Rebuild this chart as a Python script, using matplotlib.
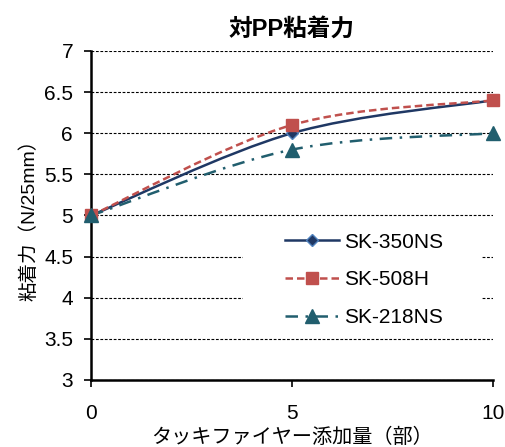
import numpy as np
import matplotlib
matplotlib.use("Agg")
import matplotlib.pyplot as plt
from matplotlib.path import Path
from matplotlib.patches import PathPatch, Rectangle
from matplotlib.lines import Line2D

plt.rcParams['font.family'] = ['Liberation Sans', 'Noto Sans CJK JP']

# data
x_parts = [0, 5, 10]
series_names = ['SK-350NS', 'SK-508H', 'SK-218NS']
sk350ns = [5.0, 6.0, 6.4]
sk508h = [5.0, 6.1, 6.4]
sk218ns = [5.0, 5.8, 6.0]
y_ticks = [3, 3.5, 4, 4.5, 5, 5.5, 6, 6.5, 7]
x_ticks = [0, 5, 10]


def smooth_path(xs, ys):
    """Excel-like smoothed line as cubic Bezier segments"""
    pts = np.column_stack([xs, ys]).astype(float)
    n = len(pts)
    verts = [pts[0]]
    codes = [Path.MOVETO]
    for i in range(n - 1):
        p0 = pts[max(i - 1, 0)]
        p1 = pts[i]
        p2 = pts[i + 1]
        p3 = pts[min(i + 2, n - 1)]
        c1 = p1 + (p2 - p0) / 6.0
        c2 = p2 - (p3 - p1) / 6.0
        verts += [c1, c2, p2]
        codes += [Path.CURVE4] * 3
    return Path(verts, codes)


fig = plt.figure(figsize=(5.06, 4.47), dpi=100)
ax = fig.add_axes([0.180, 0.150, 0.794, 0.736])

styles = [
    dict(color='#1F3864', ls='-', marker='D', ms=6, mfc='#1F3864', mec='#4F81BD'),
    dict(color='#C0504D', ls=(0, (3, 1.6)), marker='s', ms=8.5, mfc='#C0504D', mec='#C0504D'),
    dict(color='#215E6E', ls=(0, (5, 3, 1, 3)), marker='^', ms=9.5, mfc='#215E6E', mec='#215E6E'),
]

handles = []
for ys, st, name in zip([sk350ns, sk508h, sk218ns], styles, series_names):
    patch = PathPatch(smooth_path(x_parts, ys), fill=False, edgecolor=st['color'],
                      lw=1.8, linestyle=st['ls'], zorder=3, clip_on=False)
    ax.add_patch(patch)
    ax.plot(x_parts, ys, ls='none', marker=st['marker'], ms=st['ms'],
            mfc=st['mfc'], mec=st['mec'], zorder=4, clip_on=False)
    handles.append(Line2D([], [], color=st['color'], lw=1.8, ls=st['ls'],
                          marker=st['marker'], ms=st['ms'], mfc=st['mfc'], mec=st['mec']))

ax.set_xlim(0, 10)
ax.set_ylim(3, 7)
ax.set_xticks(x_ticks)
ax.set_yticks(y_ticks)
ax.set_yticklabels([f'{v:g}' for v in y_ticks])
ax.tick_params(axis='both', labelsize=15, direction='out', length=5, width=1.2)
ax.tick_params(axis='x', pad=12)
ax.tick_params(axis='y', pad=8)

ax.yaxis.grid(True, color='black', linestyle=(0, (2.5, 1.5)), lw=0.8)
ax.set_axisbelow(True)
for side in ['top', 'right']:
    ax.spines[side].set_visible(False)
for side in ['left', 'bottom']:
    ax.spines[side].set_linewidth(1.8)

ax.set_title('対PP粘着力', fontsize=17, fontweight='bold', pad=11)
ax.set_xlabel('タッキファイヤー添加量（部）', fontsize=14.5, labelpad=4)
ax.set_ylabel('粘着力（N/25mm）', fontsize=14, labelpad=4)

# white legend background box (wider than the legend itself)
ax.add_patch(Rectangle((0.378, 0.137), 0.592, 0.349, transform=ax.transAxes,
                       facecolor='white', edgecolor='none', zorder=1))

leg = ax.legend(handles, series_names, loc='center left', bbox_to_anchor=(0.483, 0.304),
                frameon=False, fontsize=15, handlelength=2.6, labelspacing=0.9,
                borderpad=0, borderaxespad=0, handletextpad=0.25)

fig.savefig('out.png', dpi=100)
